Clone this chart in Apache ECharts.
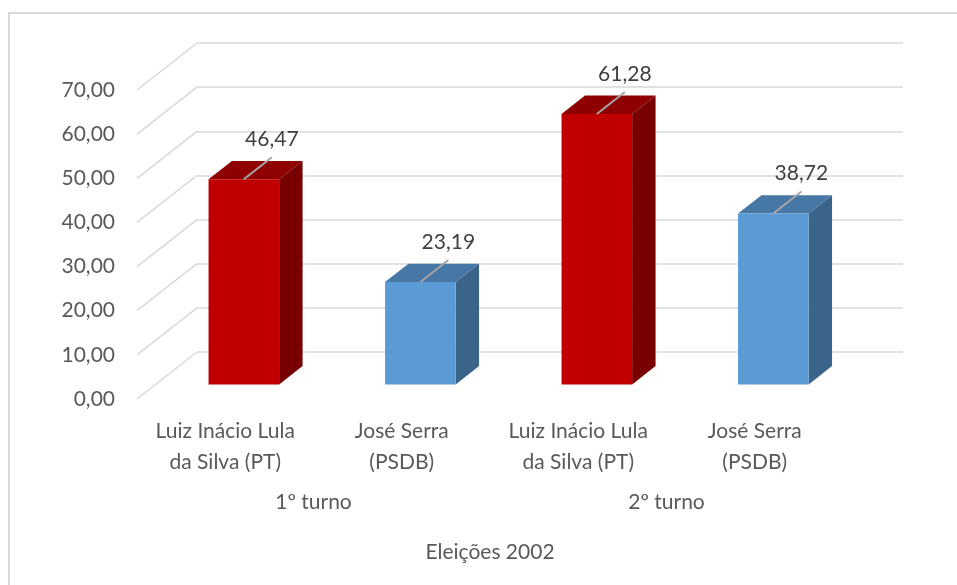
<!DOCTYPE html>
<html>
<head>
<meta charset="utf-8">
<title>Eleições 2002</title>
<script src="https://cdn.jsdelivr.net/npm/echarts@6/dist/echarts.min.js"></script>
<style>
  html, body { margin: 0; padding: 0; background: #fff; }
  #chart { width: 957px; height: 585px; }
</style>
</head>
<body>
<div id="chart"></div>
<script>
// dados
const categories = ['Luiz Inácio Lula\nda Silva (PT)', 'José Serra\n(PSDB)', 'Luiz Inácio Lula\nda Silva (PT)', 'José Serra\n(PSDB)'];
const rounds = ['1º turno', '2º turno'];
const votes = [46.47, 23.19, 61.28, 38.72];
const yTicks = [0, 10, 20, 30, 40, 50, 60, 70];
const axisTitle = 'Eleições 2002';

// pseudo 3D: deslocamento da parede do fundo para o plano da frente
const DEPTH_X = -60, DEPTH_Y = 47;
const BAR_FRONT = 0.69, BAR_BACK = 0.30;
const FONT = 'Lato, "Open Sans", sans-serif';

// cores das faces (frente / topo / lado)
const faces = [
    { front: '#C00000', top: '#8F0000', side: '#780000' },
    { front: '#5B9BD5', top: '#4677A5', side: '#3A6489' }
];

const fmt = v => v.toFixed(2).replace('.', ',');

function renderGuide(params, api) {
    const cs = params.coordSys;
    const y = api.coord([0, api.value(0)])[1];
    return {
        type: 'line',
        shape: { x1: cs.x, y1: y, x2: cs.x + DEPTH_X, y2: y + DEPTH_Y },
        style: { stroke: '#D9D9D9', lineWidth: 1.5 }
    };
}

function renderBar(params, api) {
    const i = api.value(0);
    const v = api.value(1);
    const base = api.coord([i, 0]);
    const top = api.coord([i, v]);
    const w = api.size([1, 0])[0] * 0.4;
    const xl = base[0] - w / 2, xr = base[0] + w / 2;
    const yb = base[1], yt = top[1];
    const fx = DEPTH_X * BAR_FRONT, fy = DEPTH_Y * BAR_FRONT;
    const bx = DEPTH_X * BAR_BACK, by = DEPTH_Y * BAR_BACK;
    const c = faces[i % 2];

    const cx = base[0] + fx;
    const ty = yt + fy;
    const ex = cx + 28, ey = ty - 22;

    return {
        type: 'group',
        children: [
            {
                type: 'polygon',
                shape: { points: [[xr + fx, yt + fy], [xr + bx, yt + by], [xr + bx, yb + by], [xr + fx, yb + fy]] },
                style: { fill: c.side }
            },
            {
                type: 'polygon',
                shape: { points: [[xl + fx, yt + fy], [xr + fx, yt + fy], [xr + bx, yt + by], [xl + bx, yt + by]] },
                style: { fill: c.top }
            },
            {
                type: 'rect',
                shape: { x: xl + fx, y: yt + fy, width: w, height: yb - yt },
                style: { fill: c.front }
            },
            {
                type: 'line',
                shape: { x1: cx, y1: ty, x2: ex, y2: ey },
                style: { stroke: '#A6A6A6', lineWidth: 2 }
            },
            {
                type: 'text',
                x: ex, y: ey - 18,
                style: {
                    text: fmt(v),
                    fill: '#404040',
                    font: '21px ' + FONT,
                    align: 'center',
                    verticalAlign: 'middle'
                }
            }
        ]
    };
}

const chart = echarts.init(document.getElementById('chart'));

chart.setOption({
    animation: false,
    backgroundColor: '#fff',
    textStyle: { fontFamily: FONT },
    graphic: [{
        type: 'rect',
        shape: { x: 9, y: 13, width: 1000, height: 700 },
        style: { fill: 'none', stroke: '#D9D9D9', lineWidth: 2 },
        silent: true
    }],
    grid: [
        // parede do fundo
        { left: 197, right: 54, top: 43, bottom: 233 },
        // plano da frente
        { left: 137, right: 114, top: 90, bottom: 186 }
    ],
    xAxis: [
        {
            type: 'category', gridIndex: 0, data: categories,
            axisLine: { show: false }, axisTick: { show: false }, axisLabel: { show: false }
        },
        {
            type: 'category', gridIndex: 1, data: categories, position: 'bottom',
            axisLine: { show: false }, axisTick: { show: false },
            axisLabel: { interval: 0, margin: 17, color: '#595959', fontSize: 21, lineHeight: 31, fontFamily: FONT }
        },
        {
            type: 'category', gridIndex: 1, data: rounds, position: 'bottom',
            axisLine: { show: false }, axisTick: { show: false },
            axisLabel: { interval: 0, margin: 88, color: '#595959', fontSize: 21, lineHeight: 31, fontFamily: FONT },
            name: axisTitle, nameLocation: 'middle', nameGap: 143,
            nameTextStyle: { color: '#595959', fontSize: 21, fontFamily: FONT }
        }
    ],
    yAxis: [
        {
            type: 'value', gridIndex: 0, min: 0, max: 70, interval: 10,
            axisLine: { show: false }, axisTick: { show: false }, axisLabel: { show: false },
            splitLine: { lineStyle: { color: '#D9D9D9', width: 1.5 } }
        },
        {
            type: 'value', gridIndex: 1, min: 0, max: 70, interval: 10,
            axisLine: { show: false }, axisTick: { show: false }, splitLine: { show: false },
            axisLabel: { margin: 22, color: '#595959', fontSize: 21, fontFamily: FONT, formatter: fmt }
        }
    ],
    series: [
        {
            type: 'custom', xAxisIndex: 0, yAxisIndex: 0, z: 1,
            renderItem: renderGuide,
            data: yTicks.map(t => [t])
        },
        {
            type: 'custom', xAxisIndex: 0, yAxisIndex: 0, z: 3,
            renderItem: renderBar,
            data: votes.map((v, i) => [i, v])
        }
    ]
});
</script>
</body>
</html>
